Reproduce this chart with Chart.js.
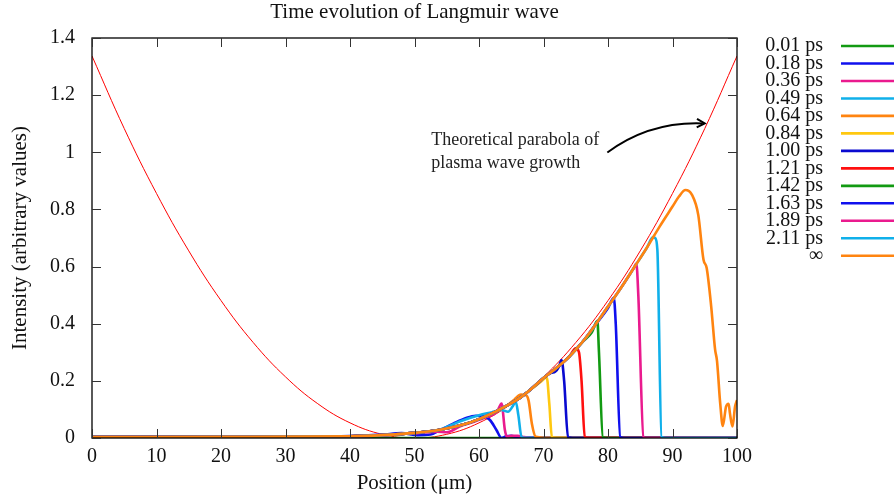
<!DOCTYPE html>
<html><head><meta charset="utf-8">
<script src="https://cdn.jsdelivr.net/npm/chart.js@4.4.0/dist/chart.umd.min.js"></script>
<style>html,body{margin:0;padding:0;background:#fff;}</style>
</head><body>
<canvas id="c" width="895" height="500"></canvas>
<script>
// ---------- texts ----------
const chartTitle = 'Time evolution of Langmuir wave';
const xAxisTitle = 'Position (μm)';
const yAxisTitle = 'Intensity (arbitrary values)';
const noteLines = ['Theoretical parabola of', 'plasma wave growth'];

// ---------- ticks ----------
const xTicks = [0, 10, 20, 30, 40, 50, 60, 70, 80, 90, 100];
const xTickLabels = ['0', '10', '20', '30', '40', '50', '60', '70', '80', '90', '100'];
const yTicks = [0, 0.2, 0.4, 0.6, 0.8, 1.0, 1.2, 1.4];
const yTickLabels = ['0', '0.2', '0.4', '0.6', '0.8', '1', '1.2', '1.4'];

// ---------- series ----------
const seriesLabels = ['0.01 ps', '0.18 ps', '0.36 ps', '0.49 ps', '0.64 ps', '0.84 ps', '1.00 ps',
  '1.21 ps', '1.42 ps', '1.63 ps', '1.89 ps', '2.11 ps', '∞'];

// theoretical parabola
const parabX = [0, 5, 10, 15, 20, 25, 30, 35, 40, 45, 50, 55, 60, 65, 70, 75, 80, 85, 90, 95, 100];
const parabY = [1.337, 1.083, 0.856, 0.655, 0.481, 0.334, 0.214, 0.120, 0.053, 0.013, 0.0, 0.013,
  0.053, 0.120, 0.214, 0.334, 0.481, 0.655, 0.856, 1.083, 1.337];

const x001 = [0, 100];
const y001 = [0, 0];

const x018 = [0, 20, 40, 45, 48, 50.5, 52.5, 54, 56, 58, 59.5, 60.7, 61.7, 62.7, 63.5, 64.2, 65, 66, 100];
const y018 = [0.003, 0.004, 0.007, 0.012, 0.017, 0.010, 0.012, 0.028, 0.05, 0.07, 0.078, 0.076, 0.063, 0.028, 0.0, 0.006, 0.008, 0.002, 0.001];

const x036 = [0, 20, 40, 45, 48, 50, 52, 53.5, 55, 57, 59, 61, 62.8, 63.5, 64.0, 64.3, 65, 66, 67, 68, 100];
const y036 = [0.003, 0.004, 0.006, 0.01, 0.014, 0.016, 0.02, 0.022, 0.02, 0.04, 0.055, 0.072, 0.092, 0.121, 0.03, 0.005, 0.008, 0.008, 0.003, 0.001, 0];

const x049 = [0, 20, 40, 45, 50, 54, 57, 60, 62, 63.5, 64.5, 65.2, 65.7, 66.1, 66.6, 67.5, 100];
const y049 = [0.003, 0.004, 0.006, 0.01, 0.018, 0.03, 0.058, 0.08, 0.09, 0.098, 0.092, 0.11, 0.127, 0.08, 0.003, 0.001, 0];

const x064 = [0, 20, 40, 45, 50, 54, 58, 62, 64, 65.5, 66.5, 67.3, 67.7, 68.2, 68.8, 70, 100];
const y064 = [0.003, 0.004, 0.006, 0.01, 0.018, 0.03, 0.05, 0.085, 0.108, 0.135, 0.152, 0.15, 0.13, 0.05, 0.004, 0.001, 0];

const x084 = [0, 20, 40, 45, 50, 54, 58, 60, 62, 64, 66, 68, 69.5, 70.5, 70.9, 71.3, 72, 100];
const y084 = [0.003, 0.004, 0.006, 0.01, 0.018, 0.029, 0.05, 0.066, 0.086, 0.11, 0.135, 0.17, 0.195, 0.212, 0.12, 0.003, 0.001, 0];

const x100 = [0, 20, 40, 45, 50, 54, 58, 60, 62, 64, 66, 68, 70, 71.2, 71.8, 72.4, 72.8, 73.2, 73.8, 74.5, 100];
const y100 = [0.003, 0.004, 0.006, 0.01, 0.018, 0.029, 0.05, 0.066, 0.086, 0.11, 0.135, 0.17, 0.21, 0.228, 0.232, 0.25, 0.273, 0.2, 0.003, 0.001, 0];

const x121 = [0, 20, 40, 45, 50, 54, 58, 60, 62, 64, 66, 68, 70, 72, 74, 75, 75.5, 75.9, 76.4, 77, 100];
const y121 = [0.003, 0.004, 0.006, 0.01, 0.018, 0.029, 0.05, 0.066, 0.086, 0.11, 0.135, 0.17, 0.21, 0.245, 0.285, 0.314, 0.3, 0.2, 0.003, 0.001, 0];

const x142 = [0, 20, 40, 45, 50, 54, 58, 60, 62, 64, 66, 68, 70, 72, 74, 76, 77.5, 78.35, 78.6, 79.2, 80, 100];
const y142 = [0.003, 0.004, 0.006, 0.01, 0.018, 0.029, 0.05, 0.066, 0.086, 0.11, 0.135, 0.17, 0.21, 0.245, 0.285, 0.335, 0.37, 0.41, 0.3, 0.003, 0, 0];

const x163 = [0, 20, 40, 45, 50, 54, 58, 60, 62, 64, 66, 68, 70, 72, 74, 76, 78, 80, 80.9, 81.2, 81.9, 82.5, 100];
const y163 = [0.003, 0.004, 0.006, 0.01, 0.018, 0.029, 0.05, 0.066, 0.086, 0.11, 0.135, 0.17, 0.21, 0.245, 0.285, 0.335, 0.395, 0.455, 0.491, 0.4, 0.003, 0, 0];

const x189 = [0, 20, 40, 45, 50, 54, 58, 60, 62, 64, 66, 68, 70, 72, 74, 76, 78, 80, 82, 84, 84.4, 84.7, 85.5, 86, 100];
const y189 = [0.003, 0.004, 0.006, 0.01, 0.018, 0.029, 0.05, 0.066, 0.086, 0.11, 0.135, 0.17, 0.21, 0.245, 0.285, 0.335, 0.395, 0.46, 0.525, 0.595, 0.611, 0.5, 0.003, 0, 0];

const x211 = [0, 20, 40, 45, 50, 54, 58, 60, 62, 64, 66, 68, 70, 72, 74, 76, 78, 80, 82, 84, 86, 87, 87.3, 87.65, 88.3, 89, 100];
const y211 = [0.003, 0.004, 0.006, 0.01, 0.018, 0.029, 0.05, 0.066, 0.086, 0.11, 0.135, 0.17, 0.21, 0.245, 0.285, 0.335, 0.395, 0.46, 0.525, 0.595, 0.665, 0.703, 0.70, 0.66, 0.003, 0, 0];

const xInf = [0, 20, 40, 45, 50, 54, 58, 60, 62, 64, 66, 68, 70, 72, 74, 76, 78, 80, 82, 84, 86, 88, 90, 91, 92, 93,
  94, 94.8, 95.3, 96, 96.6, 96.9, 97.4, 97.8, 98.3, 98.7, 98.9, 99.3, 99.7, 100];
const yInf = [0.003, 0.004, 0.006, 0.01, 0.018, 0.029, 0.05, 0.066, 0.086, 0.11, 0.135, 0.17, 0.21, 0.245, 0.285, 0.335,
  0.395, 0.46, 0.525, 0.595, 0.665, 0.74, 0.81, 0.845, 0.868, 0.852, 0.78, 0.625, 0.595, 0.46, 0.31, 0.27, 0.12, 0.042,
  0.11, 0.12, 0.087, 0.04, 0.11, 0.133];

const seriesX = [x001, x018, x036, x049, x064, x084, x100, x121, x142, x163, x189, x211, xInf];
const seriesY = [y001, y018, y036, y049, y064, y084, y100, y121, y142, y163, y189, y211, yInf];

// ---------- styles ----------
const seriesColors = ['#129a12', '#1010ee', '#ea1a8e', '#10b0ea', '#ff8410', '#ffc810', '#0a0ad0',
  '#ff1010', '#129a12', '#1010ee', '#ea1a8e', '#10b0ea', '#ff8410'];
const FONT = '"Liberation Serif", "Times New Roman", serif';

const pts = (xs, ys) => xs.map((x, i) => ({x: x, y: ys[i]}));

const datasets = seriesLabels.map((lab, i) => ({
  label: lab,
  data: pts(seriesX[i], seriesY[i]),
  borderColor: seriesColors[i],
  borderWidth: 2.6,
  pointRadius: 0,
  fill: false,
  cubicInterpolationMode: 'monotone',
  order: seriesLabels.length - i
}));
datasets.push({
  label: 'parabola',
  data: pts(parabX, parabY),
  borderColor: '#ff0000',
  borderWidth: 1,
  pointRadius: 0,
  fill: false,
  tension: 0.4,
  order: 100
});

const decor = {
  id: 'decor',
  afterDraw(chart) {
    const ctx = chart.ctx;
    const a = chart.chartArea;
    const xs = chart.scales.x, ys = chart.scales.y;
    ctx.save();
    // frame
    ctx.strokeStyle = '#000';
    ctx.lineWidth = 1.3;
    ctx.strokeRect(a.left, a.top, a.right - a.left, a.bottom - a.top);
    // inward ticks (mirrored)
    ctx.strokeStyle = '#333';
    ctx.lineWidth = 1;
    const TL = 9;
    ctx.beginPath();
    xTicks.forEach(v => {
      const p = Math.round(xs.getPixelForValue(v)) + 0.5;
      ctx.moveTo(p, a.bottom); ctx.lineTo(p, a.bottom - TL);
      ctx.moveTo(p, a.top); ctx.lineTo(p, a.top + TL);
    });
    yTicks.forEach(v => {
      const p = Math.round(ys.getPixelForValue(v)) + 0.5;
      ctx.moveTo(a.left, p); ctx.lineTo(a.left + TL, p);
      ctx.moveTo(a.right, p); ctx.lineTo(a.right - TL, p);
    });
    ctx.stroke();

    // title (centred over the plot area)
    ctx.fillStyle = '#111';
    ctx.font = '21px ' + FONT;
    ctx.textAlign = 'center';
    ctx.textBaseline = 'middle';
    ctx.fillText(chartTitle, (a.left + a.right) / 2, 12);

    // legend
    ctx.font = '20px ' + FONT;
    ctx.textAlign = 'right';
    seriesLabels.forEach((lab, i) => {
      const y = 46 + i * 17.48;
      ctx.fillStyle = '#111';
      ctx.fillText(lab, 823, y);
      ctx.strokeStyle = seriesColors[i];
      ctx.lineWidth = 2.6;
      ctx.beginPath();
      ctx.moveTo(841, y); ctx.lineTo(894, y);
      ctx.stroke();
    });

    // annotation
    ctx.font = '18px ' + FONT;
    ctx.textAlign = 'left';
    ctx.fillStyle = '#222';
    const tx = xs.getPixelForValue(52.6);
    ctx.fillText(noteLines[0], tx, ys.getPixelForValue(1.043));
    ctx.fillText(noteLines[1], tx, ys.getPixelForValue(0.963));
    // arrow
    const sx = xs.getPixelForValue(79.9), sy = ys.getPixelForValue(0.999);
    const ex = xs.getPixelForValue(95.0), ey = ys.getPixelForValue(1.101);
    const cx = sx + 42, cy = ey - 2;
    ctx.strokeStyle = '#000';
    ctx.lineWidth = 2;
    ctx.beginPath();
    ctx.moveTo(sx, sy);
    ctx.quadraticCurveTo(cx, cy, ex - 2, ey);
    ctx.stroke();
    const ang = Math.atan2(ey - cy, ex - cx);
    ctx.beginPath();
    ctx.moveTo(ex - 9 * Math.cos(ang - 0.5), ey - 9 * Math.sin(ang - 0.5));
    ctx.lineTo(ex, ey);
    ctx.lineTo(ex - 9 * Math.cos(ang + 0.5), ey - 9 * Math.sin(ang + 0.5));
    ctx.stroke();
    ctx.restore();
  }
};

new Chart(document.getElementById('c'), {
  type: 'line',
  data: {datasets: datasets},
  plugins: [decor],
  options: {
    responsive: false,
    animation: false,
    events: [],
    layout: {padding: {left: 0, right: 158, top: 38, bottom: 0}},
    plugins: {legend: {display: false}, tooltip: {enabled: false}, title: {display: false}},
    scales: {
      x: {
        type: 'linear', min: 0, max: 100,
        afterBuildTicks: s => { s.ticks = xTicks.map(v => ({value: v})); },
        afterFit: s => { s.height = 62; },
        ticks: {
          callback: (v, i) => xTickLabels[i],
          font: {family: FONT, size: 20}, color: '#111', padding: 7, maxRotation: 0, autoSkip: false
        },
        grid: {display: false, drawTicks: false},
        border: {display: false},
        title: {display: true, text: xAxisTitle, font: {family: FONT, size: 21}, color: '#111', padding: {top: 0, bottom: 4}}
      },
      y: {
        type: 'linear', min: 0, max: 1.4,
        afterBuildTicks: s => { s.ticks = yTicks.map(v => ({value: v})); },
        afterFit: s => { s.width = 92; },
        ticks: {
          callback: (v, i) => yTickLabels[i],
          font: {family: FONT, size: 20}, color: '#111', padding: 17, autoSkip: false
        },
        grid: {display: false, drawTicks: false},
        border: {display: false},
        title: {display: true, text: yAxisTitle, font: {family: FONT, size: 21}, color: '#111', padding: {top: 8, bottom: 0}}
      }
    }
  }
});
</script>
</body></html>
